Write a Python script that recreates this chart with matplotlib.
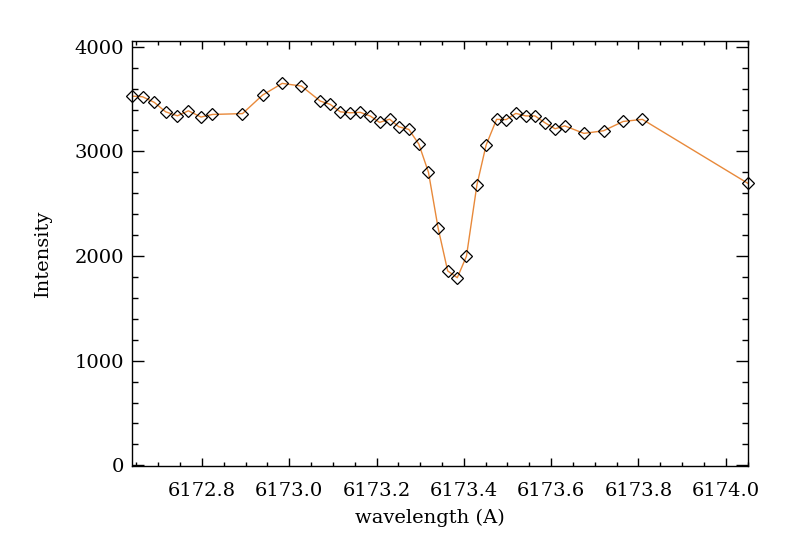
import matplotlib
matplotlib.use('Agg')
import matplotlib.pyplot as plt
from matplotlib.ticker import MultipleLocator, FormatStrFormatter

wavelength = [6172.640, 6172.664, 6172.691, 6172.717, 6172.744, 6172.769,
              6172.798, 6172.824, 6172.893, 6172.939, 6172.984, 6173.028,
              6173.071, 6173.094, 6173.117, 6173.140, 6173.163, 6173.186,
              6173.207, 6173.230, 6173.251, 6173.274, 6173.297, 6173.319,
              6173.341, 6173.363, 6173.385, 6173.406, 6173.430, 6173.451,
              6173.475, 6173.497, 6173.519, 6173.542, 6173.563, 6173.586,
              6173.609, 6173.631, 6173.675, 6173.720, 6173.765, 6173.809,
              6174.051]
intensity = [3528, 3522, 3468, 3378, 3340, 3388, 3328, 3353, 3361, 3538,
             3650, 3624, 3481, 3449, 3378, 3369, 3373, 3337, 3277, 3308,
             3235, 3210, 3069, 2800, 2269, 1858, 1793, 1998, 2680, 3060,
             3306, 3304, 3363, 3339, 3339, 3273, 3216, 3244, 3172, 3197,
             3286, 3306, 2694]

plt.rcParams['font.family'] = 'DejaVu Serif'
plt.rcParams['font.size'] = 14

fig = plt.figure(figsize=(7.86, 5.5), dpi=100)
ax = fig.add_axes([0.168, 0.152, 0.7837, 0.7735])

ax.plot(wavelength, intensity, color='#E8893A', lw=1.0, zorder=2)
ax.plot(wavelength, intensity, ls='none', marker='D', markersize=6.3,
        markerfacecolor='none', markeredgecolor='black', markeredgewidth=0.9,
        zorder=3, clip_on=False)

ax.set_xlim(6172.640, 6174.051)
ax.set_ylim(-10, 4055)

ax.xaxis.set_major_locator(MultipleLocator(0.2))
ax.xaxis.set_minor_locator(MultipleLocator(0.05))
ax.xaxis.set_major_formatter(FormatStrFormatter('%.1f'))
ax.yaxis.set_major_locator(MultipleLocator(1000))
ax.yaxis.set_minor_locator(MultipleLocator(200))

ax.tick_params(axis='both', which='both', direction='in', top=True, right=True,
               width=1.0, color='black')
ax.tick_params(axis='x', which='major', length=6, pad=11)
ax.tick_params(axis='x', which='minor', length=3)
ax.tick_params(axis='y', which='major', length=8.7, pad=6)
ax.tick_params(axis='y', which='minor', length=4.5)

for sp in ax.spines.values():
    sp.set_linewidth(1.0)

ax.set_xlabel('wavelength (A)')
ax.set_ylabel('Intensity')
ax.xaxis.set_label_coords(0.484, -0.1)
ax.yaxis.set_label_coords(-0.13, 0.5)

plt.savefig('out.png', dpi=100)
